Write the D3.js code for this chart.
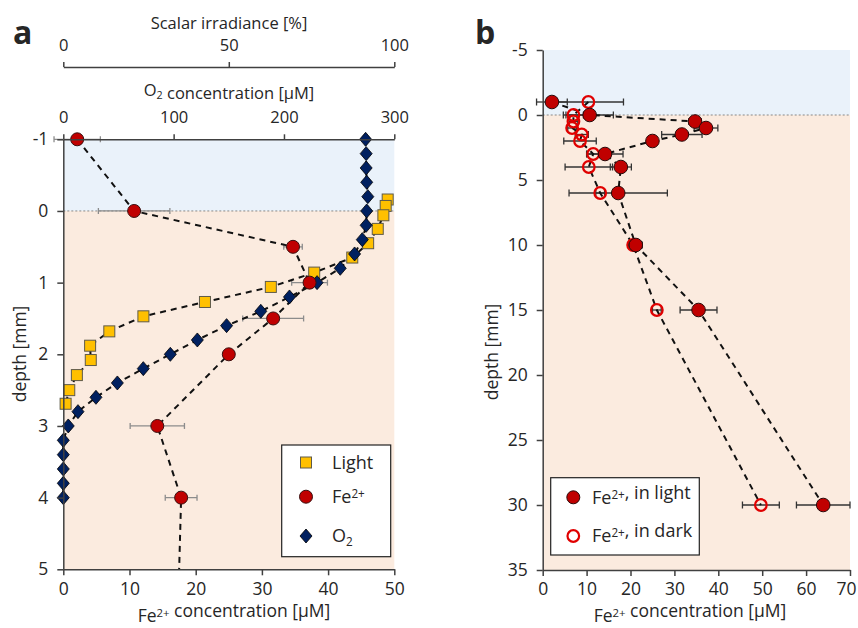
<!DOCTYPE html>
<html>
<head>
<meta charset="utf-8">
<script src="https://cdn.jsdelivr.net/npm/d3@7"></script>
<style>
body { margin: 0; background: #fff; }
text { font-family: "Open Sans", sans-serif; fill: #262626; }
.axis path, .axis line { stroke: #404040; stroke-width: 1.5; }
.axis text { font-size: 17.5px; fill: #262626; font-family: "Open Sans", sans-serif; }
.axis.top text { font-size: 16.5px; }
</style>
</head>
<body>
<script>
// ---- panel a : O2 profile (0.2 mm steps)
var o2Depth = [-1,-0.8,-0.6,-0.4,-0.2,0,0.2,0.4,0.6,0.8,1.0,1.2,1.4,1.6,1.8,2.0,2.2,2.4,2.6,2.8,3.0,3.2,3.4,3.6,3.8,4.0];
var o2Conc  = [274,274.5,274.5,275,276,275,274.5,271,264,251,230,205,179,148,121.5,97,72.5,49,29.6,13.3,4.5,0,0,0,0,0];

// ---- panel a : scalar irradiance (light)
var lightDepth = [-0.16,-0.07,0.06,0.25,0.45,0.65,0.86,1.06,1.27,1.47,1.68,1.88,2.08,2.29,2.5,2.69];
var lightVal   = [98,97.4,96.7,95,92.1,87.3,75.8,62.7,42.8,24.2,13.9,8.1,8.3,4.1,1.8,0.7];

// ---- Fe2+ profiles (panel a shows the light series, panel b both)
var feDepth    = [-1,0,0.5,1,1.5,2,3,4,6,10,15,30];
var feLight    = [2.1,10.7,34.7,37.2,31.7,25.0,14.2,17.8,17.2,21.2,35.5,63.9];
var feLightErr = [3.5,5.4,1.4,2.7,4.6,0.8,4.1,2.4,11.2,1.5,4.2,6.1];
var feDark     = [10.4,7.0,7.0,6.7,8.9,8.5,11.5,10.5,13.1,20.6,26.0,49.7];
var feDarkErr  = [8.0,2.3,1.0,1.0,1.5,3.7,1.5,5.4,1.0,1.0,1.0,4.2];

var ticksDepthA = [-1,0,1,2,3,4,5];
var ticksFeA = [0,10,20,30,40,50];
var ticksO2 = [0,100,200,300];
var ticksIrr = [0,50,100];
var ticksDepthB = [-5,0,5,10,15,20,25,30,35];
var ticksFeB = [0,10,20,30,40,50,60,70];

var blueBg = "#eaf2fa", peachBg = "#fbebdf";
var fmt = function(d){ return String(d); };

var svg = d3.select("body").append("svg").attr("width",858).attr("height",628);

// rich text with sup/sub
function rich(sel, parts) {
    parts.forEach(function(p){
        if (p[1] == "sup") {
            sel.append("tspan").attr("font-size","0.65em").attr("dy","-0.4em").text(p[0]);
            sel.append("tspan").attr("dy","0.26em").text("");
        } else if (p[1] == "sub") {
            sel.append("tspan").attr("font-size","0.65em").attr("dy","0.3em").text(p[0]);
            sel.append("tspan").attr("dy","-0.2em").text("");
        } else {
            sel.append("tspan").text(p[0]);
        }
    });
    return sel;
}

function errBars(g, data, x, y, color, cap) {
    var eb = g.append("g").attr("stroke",color).attr("stroke-width",1.3);
    data.forEach(function(d){
        if (!d.e) return;
        var yy = y(d.d), xl = x(d.v - d.e), xr = x(d.v + d.e);
        eb.append("line").attr("x1",xl).attr("x2",xr).attr("y1",yy).attr("y2",yy);
        eb.append("line").attr("x1",xl).attr("x2",xl).attr("y1",yy-cap).attr("y2",yy+cap);
        eb.append("line").attr("x1",xr).attr("x2",xr).attr("y1",yy-cap).attr("y2",yy+cap);
    });
}

function dashed(g, data, x, y) {
    g.append("path").datum(data)
        .attr("fill","none").attr("stroke","#111").attr("stroke-width",2)
        .attr("stroke-dasharray","6,5")
        .attr("d", d3.line().x(function(d){ return x(d.v); }).y(function(d){ return y(d.d); }));
}

// =============== panel a ===============
var xa = d3.scaleLinear().domain([0,50]).range([63.3,394.3]);
var xo2 = d3.scaleLinear().domain([0,300]).range([63.3,394.3]);
var xirr = d3.scaleLinear().domain([0,100]).range([63.3,394.3]);
var ya = d3.scaleLinear().domain([-1,5]).range([139.3,569.3]);

var ga = svg.append("g");
ga.append("rect").attr("x",xa(0)).attr("y",ya(-1)).attr("width",xa(50)-xa(0)).attr("height",ya(0)-ya(-1)).attr("fill",blueBg);
ga.append("rect").attr("x",xa(0)).attr("y",ya(0)).attr("width",xa(50)-xa(0)).attr("height",ya(5)-ya(0)).attr("fill",peachBg);
ga.append("line").attr("x1",xa(0)).attr("x2",xa(50)).attr("y1",ya(0)).attr("y2",ya(0))
    .attr("stroke","#888").attr("stroke-width",1).attr("stroke-dasharray","2,2");

svg.append("defs").append("clipPath").attr("id","clipA")
    .append("rect").attr("x",40).attr("y",120).attr("width",370).attr("height",ya(5)-120);

var pa = ga.append("g").attr("clip-path","url(#clipA)");

var feA = feDepth.map(function(d,i){ return {d:d, v:feLight[i], e:feLightErr[i]}; });
var o2A = o2Depth.map(function(d,i){ return {d:d, v:o2Conc[i]}; });
var lA = lightDepth.map(function(d,i){ return {d:d, v:lightVal[i]}; });

errBars(pa, feA.filter(function(d){ return d.d <= 5; }), xa, ya, "#8c8c8c", 3);
dashed(pa, feA, xa, ya);
dashed(pa, o2A, xo2, ya);
dashed(pa, lA, xirr, ya);

pa.selectAll(".sq").data(lA).enter().append("rect")
    .attr("x",function(d){ return xirr(d.v)-5.5; }).attr("y",function(d){ return ya(d.d)-5.5; })
    .attr("width",11).attr("height",11).attr("fill","#ffc000").attr("stroke","#5e5a4a").attr("stroke-width",1);

pa.selectAll(".dm").data(o2A).enter().append("path")
    .attr("transform",function(d){ return "translate("+xo2(d.v)+","+ya(d.d)+")"; })
    .attr("d","M0,-7L6,0L0,7L-6,0Z").attr("fill","#002060").attr("stroke","#000").attr("stroke-width",0.8);

pa.selectAll(".ci").data(feA.filter(function(d){ return d.d <= 5; })).enter().append("circle")
    .attr("cx",function(d){ return xa(d.v); }).attr("cy",function(d){ return ya(d.d); })
    .attr("r",6.5).attr("fill","#c00000").attr("stroke","#3a1010").attr("stroke-width",1);

// axes a
ga.append("g").attr("class","axis").attr("transform","translate("+xa(0)+",0)")
    .call(d3.axisLeft(ya).tickValues(ticksDepthA).tickFormat(fmt).tickSize(6).tickPadding(9).tickSizeOuter(0));
ga.append("g").attr("class","axis").attr("transform","translate(0,"+ya(5)+")")
    .call(d3.axisBottom(xa).tickValues(ticksFeA).tickFormat(fmt).tickSize(6).tickPadding(7).tickSizeOuter(0));
ga.append("g").attr("class","axis top").attr("transform","translate(0,"+ya(-1)+")")
    .call(d3.axisTop(xo2).tickValues(ticksO2).tickFormat(fmt).tickSize(5).tickPadding(11).tickSizeOuter(0));
ga.append("g").attr("class","axis top").attr("transform","translate(0,67)")
    .call(d3.axisTop(xirr).tickValues(ticksIrr).tickFormat(fmt).tickSize(5).tickPadding(11).tickSizeOuter(0));

rich(ga.append("text").attr("x",229).attr("y",29).attr("text-anchor","middle").attr("font-size",16.5), [["Scalar irradiance [%]"]]);
rich(ga.append("text").attr("x",229).attr("y",96).attr("text-anchor","middle").attr("font-size",16.5), [["O"],["2","sub"],[" concentration [\u03bcM]"]]);
rich(ga.append("text").attr("x",234).attr("y",622).attr("text-anchor","middle").attr("font-size",17.5), [["Fe"],["2+","sup"],[" concentration [\u03bcM]"]]);
ga.append("text").attr("transform","translate(26,354) rotate(-90)").attr("text-anchor","middle").attr("font-size",17.5).text("depth [mm]");
ga.append("text").attr("x",13).attr("y",44).attr("font-size",32).attr("font-weight","bold").attr("fill","#000").text("a");

// legend a
var la = ga.append("g");
la.append("rect").attr("x",281.7).attr("y",445).attr("width",109).attr("height",111.7).attr("fill","#fff").attr("stroke","#222").attr("stroke-width",1.2);
la.append("rect").attr("x",300.5).attr("y",457).attr("width",11).attr("height",11).attr("fill","#ffc000").attr("stroke","#5e5a4a");
la.append("circle").attr("cx",306).attr("cy",496.7).attr("r",6.5).attr("fill","#c00000").attr("stroke","#3a1010");
la.append("path").attr("transform","translate(306,536)").attr("d","M0,-7L6,0L0,7L-6,0Z").attr("fill","#002060").attr("stroke","#000").attr("stroke-width",0.8);
rich(la.append("text").attr("x",332).attr("y",469).attr("font-size",18), [["Light"]]);
rich(la.append("text").attr("x",332).attr("y",503).attr("font-size",18), [["Fe"],["2+","sup"]]);
rich(la.append("text").attr("x",332).attr("y",542).attr("font-size",18), [["O"],["2","sub"]]);

// =============== panel b ===============
var xb = d3.scaleLinear().domain([0,70]).range([542.7,850]);
var yb = d3.scaleLinear().domain([-5,35]).range([50,570]);

var gb = svg.append("g");
gb.append("rect").attr("x",xb(0)).attr("y",yb(-5)).attr("width",xb(70)-xb(0)).attr("height",yb(0)-yb(-5)).attr("fill",blueBg);
gb.append("rect").attr("x",xb(0)).attr("y",yb(0)).attr("width",xb(70)-xb(0)).attr("height",yb(35)-yb(0)).attr("fill",peachBg);
gb.append("line").attr("x1",xb(0)).attr("x2",xb(70)).attr("y1",yb(0)).attr("y2",yb(0))
    .attr("stroke","#888").attr("stroke-width",1).attr("stroke-dasharray","2,2");

var fbL = feDepth.map(function(d,i){ return {d:d, v:feLight[i], e:feLightErr[i]}; });
var fbD = feDepth.map(function(d,i){ return {d:d, v:feDark[i], e:feDarkErr[i]}; });

errBars(gb, fbD, xb, yb, "#333", 3.5);
errBars(gb, fbL, xb, yb, "#333", 3.5);
dashed(gb, fbL, xb, yb);
dashed(gb, fbD, xb, yb);

gb.selectAll(".od").data(fbD).enter().append("circle")
    .attr("cx",function(d){ return xb(d.v); }).attr("cy",function(d){ return yb(d.d); })
    .attr("r",5.8).attr("fill","none").attr("stroke","#e00000").attr("stroke-width",2.2);
gb.selectAll(".fl").data(fbL).enter().append("circle")
    .attr("cx",function(d){ return xb(d.v); }).attr("cy",function(d){ return yb(d.d); })
    .attr("r",6.8).attr("fill","#c00000").attr("stroke","#2a0a0a").attr("stroke-width",1);

gb.append("g").attr("class","axis").attr("transform","translate("+xb(0)+",0)")
    .call(d3.axisLeft(yb).tickValues(ticksDepthB).tickFormat(fmt).tickSize(6).tickPadding(9).tickSizeOuter(0));
var axb = gb.append("g").attr("class","axis").attr("transform","translate(0,"+yb(35)+")")
    .call(d3.axisBottom(xb).tickValues(ticksFeB).tickFormat(fmt).tickSize(6).tickPadding(7).tickSizeOuter(0));
// last label sits at the window edge; nudge it in so it stays readable
axb.selectAll(".tick text").filter(function(d){ return d == 70; }).attr("dx",-4);

rich(gb.append("text").attr("x",690).attr("y",622).attr("text-anchor","middle").attr("font-size",17.5), [["Fe"],["2+","sup"],[" concentration [\u03bcM]"]]);
gb.append("text").attr("transform","translate(498,352) rotate(-90)").attr("text-anchor","middle").attr("font-size",17.5).text("depth [mm]");
gb.append("text").attr("x",475).attr("y",44).attr("font-size",32).attr("font-weight","bold").attr("fill","#000").text("b");

// legend b
var lb = gb.append("g");
lb.append("rect").attr("x",550.7).attr("y",477.7).attr("width",148.6).attr("height",77.3).attr("fill","#fff").attr("stroke","#222").attr("stroke-width",1.2);
lb.append("circle").attr("cx",573.3).attr("cy",497.3).attr("r",6.5).attr("fill","#c00000").attr("stroke","#2a0a0a");
lb.append("circle").attr("cx",573.3).attr("cy",536).attr("r",5.8).attr("fill","none").attr("stroke","#e00000").attr("stroke-width",2.2);
rich(lb.append("text").attr("x",592).attr("y",503.5).attr("font-size",18), [["Fe"],["2+","sup"],[", in light"]]);
rich(lb.append("text").attr("x",592).attr("y",542).attr("font-size",18), [["Fe"],["2+","sup"],[", in dark"]]);
</script>
</body>
</html>
